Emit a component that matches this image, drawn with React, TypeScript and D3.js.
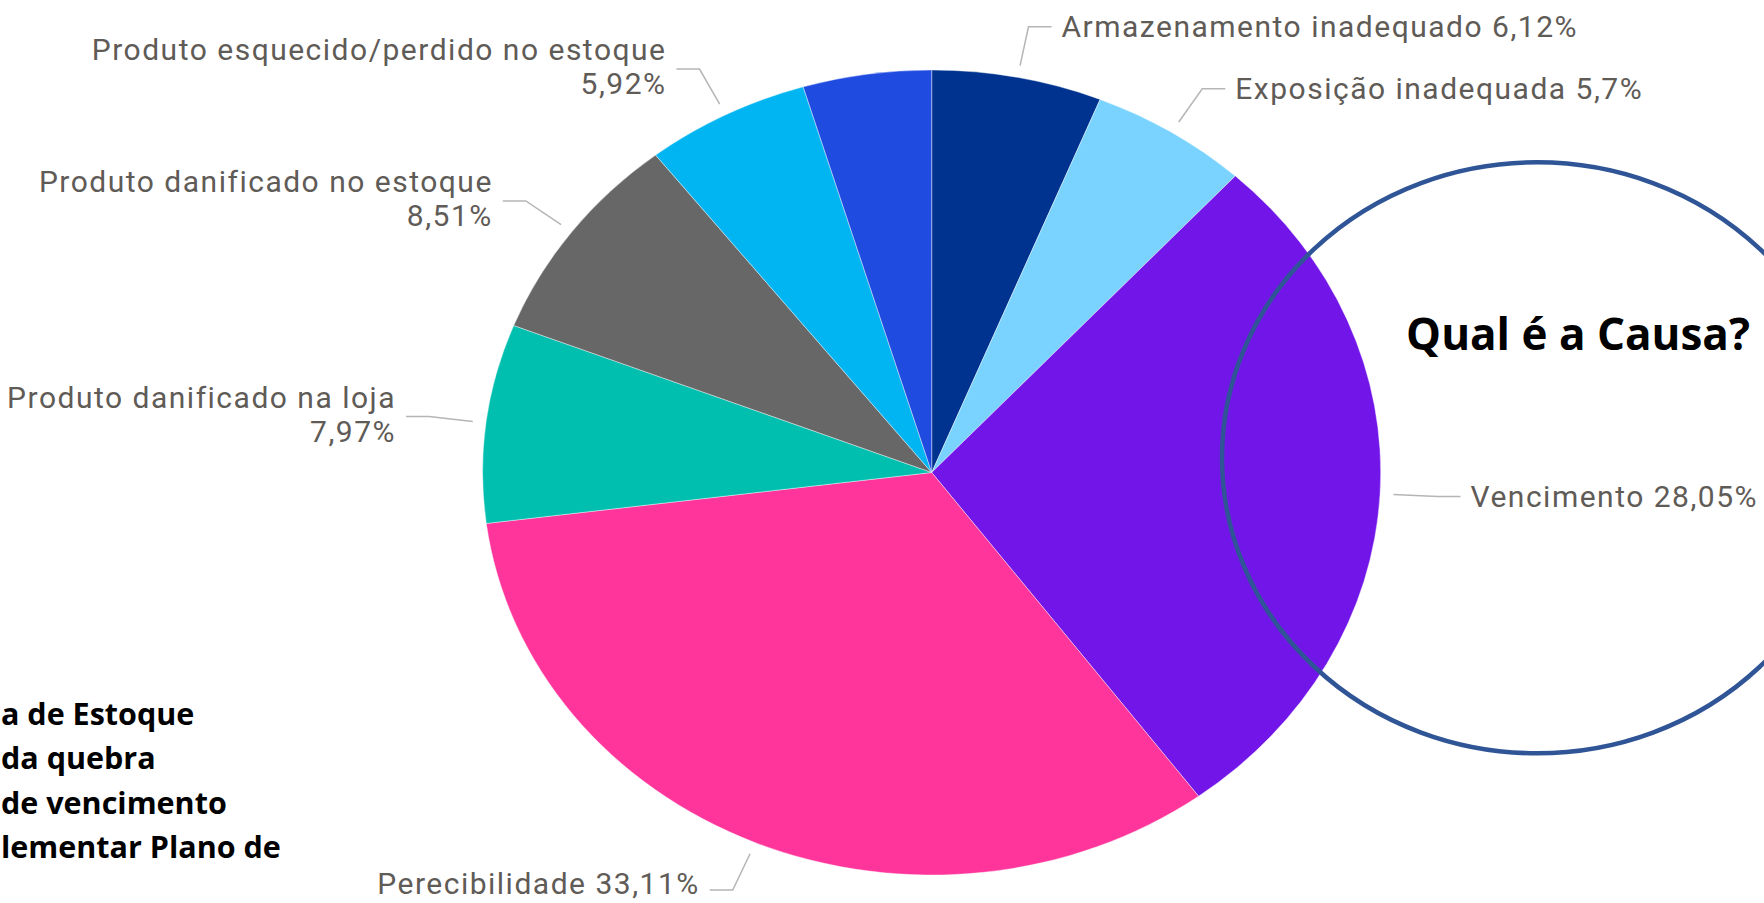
import React from 'react';
import * as d3 from 'd3';

// causes of stock loss, clockwise from 12 o'clock
const categories = [
  'Armazenamento inadequado',
  'Exposição inadequada',
  'Vencimento',
  'Perecibilidade',
  'Produto danificado na loja',
  'Produto danificado no estoque',
  'Produto esquecido/perdido no estoque',
  '', // small slice without data label
];
const shares = [6.12, 5.7, 28.05, 33.11, 7.97, 8.51, 5.92, 4.62];
const sliceColors = ['#00338F', '#7AD3FF', '#7215E8', '#FF359B', '#00BFAF', '#676767', '#00B5F2', '#204BE1'];

const noteLines = ['a de Estoque', 'da quebra', 'de vencimento', 'lementar Plano de'];
const calloutText = 'Qual é a Causa?';

const W = 1764;
const H = 903;

const fmt = (v: number) => `${String(v).replace('.', ',')}%`;

const App = () => {
  const cx = 931.7;
  const cy = 472.5;
  const rx = 449;
  const ry = 402.5;

  const data = categories.map((name, i) => ({ name, value: shares[i], color: sliceColors[i] }));

  const pie = d3.pie<{ name: string; value: number; color: string }>()
    .sort(null)
    .value(d => d.value);
  const arcs = pie(data);

  const arc = d3.arc<d3.PieArcDatum<any>>()
    .innerRadius(0)
    .outerRadius(ry);

  // point on the (stretched) pie outline at angle a, radius factor f
  const pt = (a: number, f: number): [number, number] => [
    cx + rx * f * Math.sin(a),
    cy - ry * f * Math.cos(a),
  ];

  const labels = arcs.filter(d => d.data.name).map(d => {
    const mid = (d.startAngle + d.endAngle) / 2;
    const right = Math.sin(mid) > 0;
    const p0 = pt(mid, 1.03);
    const p1 = pt(mid, 1.128);
    const p2: [number, number] = [p1[0] + (right ? 23 : -23), p1[1]];
    const tx = p2[0] + (right ? 10 : -10);
    const wrap = !right && d.data.name.length > 20;
    return { d, right, pts: [p0, p1, p2], tx, ty: p1[1], wrap };
  });

  return (
    <svg width={W} height={H} style={{ position: 'fixed', left: 0, top: 0, background: '#fff' }}>
      <g transform={`translate(${cx},${cy}) scale(${rx / ry},1)`}>
        {arcs.map((d, i) => (
          <path
            key={i}
            d={arc(d) as string}
            fill={d.data.color}
            stroke="#fff"
            strokeOpacity={0.5}
            strokeWidth={0.8}
            vectorEffect="non-scaling-stroke"
          />
        ))}
      </g>

      {labels.map((l, i) => (
        <g key={i}>
          <polyline
            points={l.pts.map(p => p.join(',')).join(' ')}
            fill="none"
            stroke="#B5B5B5"
            strokeWidth={1.5}
          />
          <text
            textAnchor={l.right ? 'start' : 'end'}
            fontFamily="Roboto, 'DejaVu Sans Condensed', sans-serif"
            fontSize={30}
            fill="#5F5B57"
            letterSpacing={1.5}
          >
            {l.wrap ? (
              <>
                <tspan x={l.tx} y={l.ty - 9}>{l.d.data.name}</tspan>
                <tspan x={l.tx} y={l.ty + 25}>{fmt(l.d.data.value)}</tspan>
              </>
            ) : (
              <tspan x={l.tx} y={Math.min(l.ty + 10, H - 9)}>{`${l.d.data.name} ${fmt(l.d.data.value)}`}</tspan>
            )}
          </text>
        </g>
      ))}

      <ellipse cx={1537} cy={457.8} rx={315} ry={295.5} fill="none" stroke="#2F5597" strokeWidth={4.5} />
      <text
        x={1578}
        y={350}
        textAnchor="middle"
        fontFamily="'Open Sans', sans-serif"
        fontWeight={700}
        fontSize={44}
        fill="#000"
      >
        {calloutText}
      </text>

      <g fontFamily="'Open Sans', sans-serif" fontWeight={700} fontSize={30.5} fill="#000">
        {noteLines.map((t, i) => (
          <text key={i} x={1} y={725 + i * 44.3}>{t}</text>
        ))}
      </g>
    </svg>
  );
};

export default App;
